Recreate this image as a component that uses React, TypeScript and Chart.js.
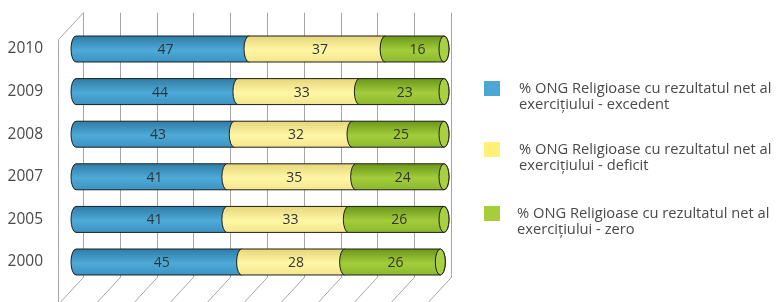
import React, { useEffect, useRef } from "react";
import { Chart, registerables } from "chart.js";

Chart.register(...registerables);

const categories = ["2010", "2009", "2008", "2007", "2005", "2000"];
const excedent = [47, 44, 43, 41, 41, 45];
const deficit = [37, 33, 32, 35, 33, 28];
const zero = [16, 23, 25, 24, 26, 26];
const xTicks = [0, 10, 20, 30, 40, 50, 60, 70, 80, 90, 100];
const legendLines = [
  ["% ONG Religioase cu rezultatul net al", "exercițiului - excedent"],
  ["% ONG Religioase cu rezultatul net al", "exercițiului - deficit"],
  ["% ONG Religioase cu rezultatul net al", "exercițiului - zero"],
];
const legendColors = ["#4BA8D6", "#FFF176", "#A6CE39"];
const shades = [
  { top: "#2f7ca6", mid: "#4eaad8", bot: "#3b93c2", cap: "#56b0dc" },
  { top: "#e6d57a", mid: "#fff7a6", bot: "#f4e58c", cap: "#fff7a6" },
  { top: "#6c9618", mid: "#a3cd3c", bot: "#8cb82c", cap: "#a8d040" },
];

const FONT = "'Open Sans', 'Noto Sans', sans-serif";
const GRID = "#a6a6a6";

const wallPlugin = {
  id: "wall3d",
  beforeDatasetsDraw(chart: any) {
    const { ctx, chartArea, scales } = chart;
    const xs = scales.x;
    const backTop = chartArea.top - 15;
    const backBot = chartArea.bottom - 6;
    const bdx = 7;
    const ddx = -25;
    const ddy = 27;
    ctx.save();
    ctx.strokeStyle = GRID;
    ctx.lineWidth = 1;
    xTicks.forEach((v) => {
      const x = Math.round(xs.getPixelForValue(v) + bdx) + 0.5;
      ctx.beginPath();
      ctx.moveTo(x, backTop);
      ctx.lineTo(x, backBot);
      ctx.lineTo(x + ddx, backBot + ddy);
      ctx.stroke();
    });
    const x0 = Math.round(xs.getPixelForValue(0) + bdx) + 0.5;
    ctx.beginPath();
    ctx.moveTo(x0, backTop);
    ctx.lineTo(x0 + ddx, backTop + ddy);
    ctx.lineTo(x0 + ddx, chart.height + 5);
    ctx.stroke();
    ctx.restore();
  },
};

const cylinderPlugin = {
  id: "cylinders",
  afterDatasetsDraw(chart: any) {
    const { ctx } = chart;
    const rx = 5;
    const n = chart.data.labels.length;
    for (let i = 0; i < n; i++) {
      chart.data.datasets.forEach((ds: any, di: number) => {
        const meta = chart.getDatasetMeta(di);
        const el = meta.data[i];
        if (!el) return;
        const { x, y, base, height } = el.getProps(["x", "y", "base", "height"], true);
        const x0 = Math.min(x, base);
        const x1 = Math.max(x, base);
        const r = height / 2;
        const s = shades[di];
        const g = ctx.createLinearGradient(0, y - r, 0, y + r);
        g.addColorStop(0, s.top);
        g.addColorStop(0.55, s.mid);
        g.addColorStop(1, s.bot);
        ctx.save();
        ctx.beginPath();
        ctx.moveTo(x0, y - r);
        ctx.lineTo(x1, y - r);
        ctx.ellipse(x1, y, rx, r, 0, -Math.PI / 2, Math.PI / 2, false);
        ctx.lineTo(x0, y + r);
        ctx.ellipse(x0, y, rx, r, 0, Math.PI / 2, (3 * Math.PI) / 2, false);
        ctx.closePath();
        ctx.fillStyle = g;
        ctx.fill();
        ctx.strokeStyle = "#1e1e1e";
        ctx.lineWidth = 1;
        ctx.stroke();
        if (di === chart.data.datasets.length - 1) {
          ctx.beginPath();
          ctx.ellipse(x1, y, rx, r, 0, 0, Math.PI * 2);
          ctx.fillStyle = s.cap;
          ctx.fill();
          ctx.stroke();
        }
        ctx.restore();
      });
      chart.data.datasets.forEach((ds: any, di: number) => {
        const el = chart.getDatasetMeta(di).data[i];
        const { x, y, base } = el.getProps(["x", "y", "base"], true);
        ctx.save();
        ctx.fillStyle = "#333333";
        ctx.font = `14px ${FONT}`;
        ctx.textAlign = "center";
        ctx.textBaseline = "middle";
        ctx.fillText(String(ds.data[i]), (x + base) / 2 + 3, y + 1);
        ctx.restore();
      });
    }
  },
};

const legendPlugin = {
  id: "sideLegend",
  afterDraw(chart: any) {
    const { ctx } = chart;
    const tops = [81, 142, 206];
    ctx.save();
    chart.data.datasets.forEach((ds: any, di: number) => {
      const t = tops[di];
      ctx.fillStyle = legendColors[di];
      ctx.fillRect(484, t, 16, 15);
      ctx.fillStyle = "#4a4a4a";
      ctx.font = `14.7px ${FONT}`;
      ctx.textAlign = "left";
      ctx.textBaseline = "middle";
      legendLines[di].forEach((line, li) => {
        ctx.fillText(line, di === 2 ? 517 : 519, t + 8 + li * 16);
      });
    });
    ctx.restore();
  },
};

export default function App() {
  const ref = useRef<HTMLCanvasElement | null>(null);
  useEffect(() => {
    if (!ref.current) return;
    const chart = new Chart(ref.current, {
      type: "bar",
      data: {
        labels: categories,
        datasets: [
          { label: legendLines[0].join(" "), data: excedent, backgroundColor: "rgba(0,0,0,0)", borderWidth: 0 },
          { label: legendLines[1].join(" "), data: deficit, backgroundColor: "rgba(0,0,0,0)", borderWidth: 0 },
          { label: legendLines[2].join(" "), data: zero, backgroundColor: "rgba(0,0,0,0)", borderWidth: 0 },
        ],
      },
      options: {
        indexAxis: "y",
        responsive: false,
        animation: false,
        layout: { padding: { left: 0, right: 332, top: 27.7, bottom: 18.7 } },
        datasets: { bar: { categoryPercentage: 1, barPercentage: 0.61 } },
        plugins: { legend: { display: false }, tooltip: { enabled: false } },
        scales: {
          x: { stacked: true, min: 0, max: 100, display: false },
          y: {
            stacked: true,
            grid: { display: false, drawTicks: false },
            border: { display: false },
            ticks: { color: "#4a4a4a", font: { size: 15.5, family: FONT }, padding: 33 },
            afterFit: (scale: any) => {
              scale.width = 76;
              scale.paddingTop = 0;
              scale.paddingBottom = 0;
            },
          },
        },
      },
      plugins: [wallPlugin, cylinderPlugin, legendPlugin],
    });
    return () => chart.destroy();
  }, []);
  return (
    <div style={{ position: "absolute", left: 0, top: 0, width: 776, height: 302, background: "#fff" }}>
      <canvas ref={ref} width={776} height={302} />
    </div>
  );
}
